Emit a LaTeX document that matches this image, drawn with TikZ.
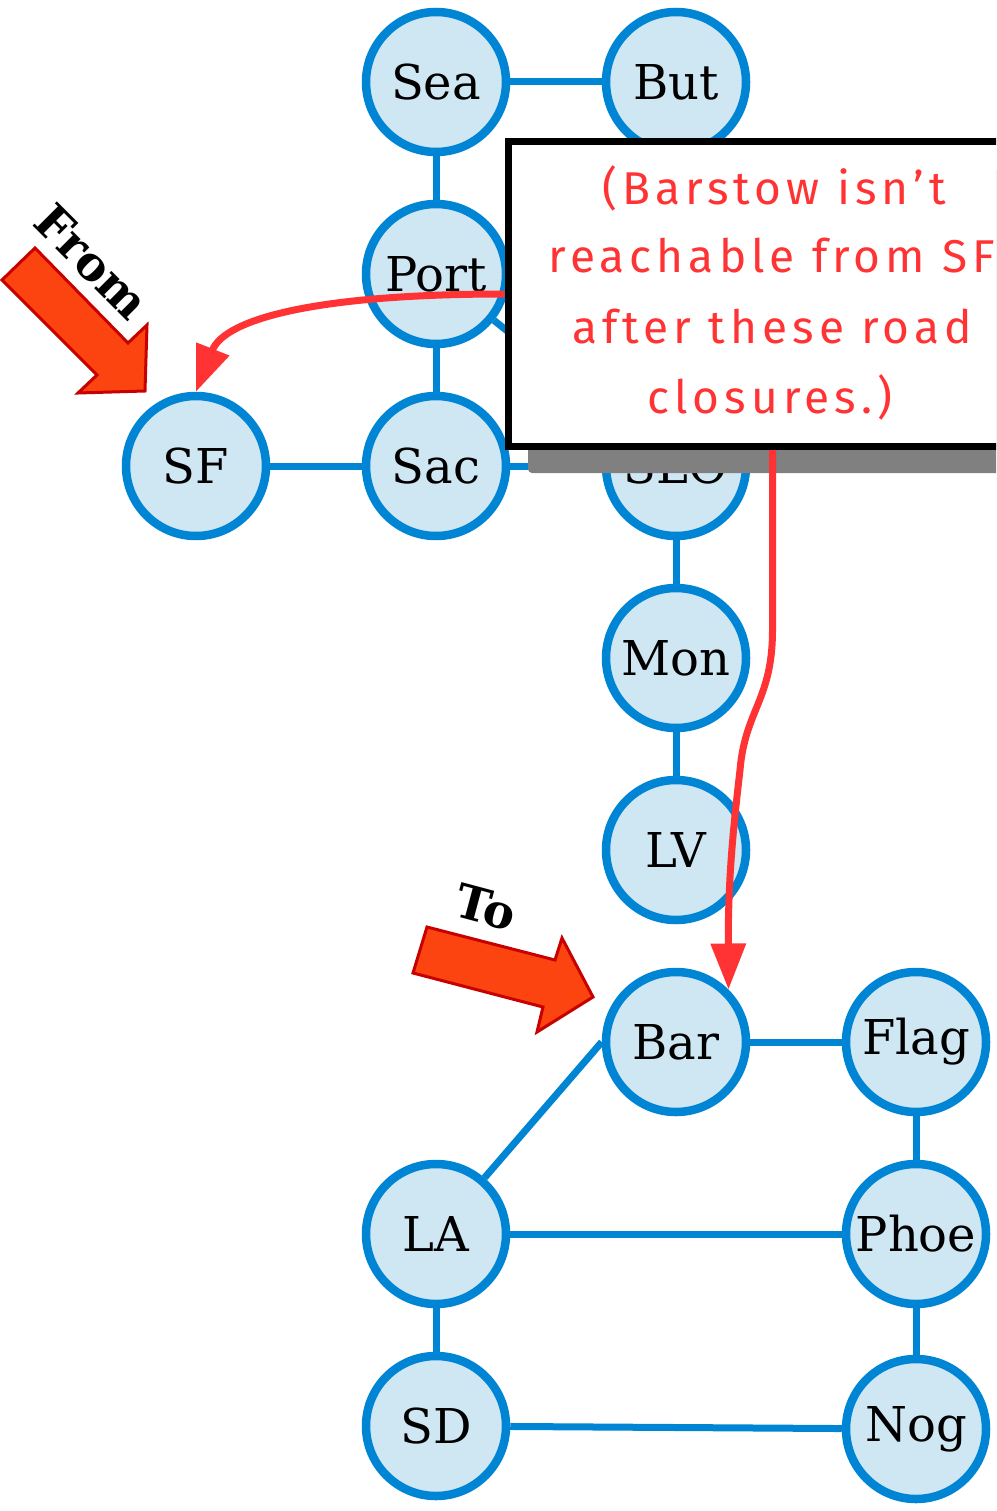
\documentclass[tikz,border=0pt]{standalone}
\usepackage{fontspec}
\setmainfont{DejaVu Serif}
\newfontfamily\hand{Fira Sans}[LetterSpace=11]
\usetikzlibrary{arrows.meta}
\definecolor{nodefill}{HTML}{CFE6F3}
\definecolor{nodeline}{HTML}{0084D4}
\definecolor{annot}{HTML}{FF3333}
\definecolor{fatfill}{HTML}{FC4410}
\definecolor{fatline}{HTML}{C80000}
\definecolor{shadowgray}{HTML}{808080}
\begin{document}
\begin{tikzpicture}[x=1pt,y=-1pt,
  city/.style={circle, draw=nodeline, fill=nodefill, line width=8.5pt, minimum size=140pt, inner sep=0pt, font=\fontsize{48}{56}\selectfont},
  road/.style={draw=nodeline, line width=7pt},
  redarrow/.style={draw=annot, line width=7pt, -{Triangle[length=46pt,width=34pt]}},
  fatarrow/.style={fill=fatfill, draw=fatline, line width=3pt, line join=miter},
  label/.style={font=\bfseries\fontsize{47}{54}\selectfont, inner sep=0pt},
  handtext/.style={text=annot, anchor=base, inner sep=0pt, font=\hand\fontsize{46}{70}\selectfont}]
\useasboundingbox (0,0) rectangle (996,1511);
\clip (0,0) rectangle (996,1511);
% cities
\node[city] (Sea) at (436,82) {Sea};
\node[city] (But) at (676,82) {But};
\node[city] (Port) at (436,274) {Port};
\node[city] (SF) at (196,466) {SF};
\node[city] (Sac) at (436,466) {Sac};
\node[city] (SLO) at (676,466) {SLO};
\node[city] (Mon) at (676,658) {Mon};
\node[city] (LV) at (676,850) {LV};
\node[city] (Bar) at (676,1042) {Bar};
\node[city] (Flag) at (916,1042) {Flag};
\node[city] (LA) at (436,1234) {LA};
\node[city] (Phoe) at (916,1234) {Phoe};
\node[city] (SD) at (436,1426) {SD};
\node[city] (Nog) at (916,1429) {Nog};
% roads
\begin{scope}[road]
\draw (Sea) -- (But);
\draw (Sea) -- (Port);
\draw (Port) -- (Sac);
\draw (Port) -- (SLO);
\draw (SF) -- (Sac);
\draw (Sac) -- (SLO);
\draw (SLO) -- (Mon);
\draw (Mon) -- (LV);
\draw (Bar) -- (Flag);
\draw (LA) -- (Bar.west);
\draw (Flag) -- (Phoe);
\draw (LA) -- (Phoe);
\draw (LA) -- (SD);
\draw (Phoe) -- (Nog);
\draw (SD) -- (Nog);
\end{scope}
% callout
\fill[shadowgray, rounded corners=4pt] (528,170) rectangle (1080,473);
\node[draw=black, fill=white, line width=7pt, minimum width=529pt, minimum height=305pt, inner sep=0pt] (note) at (772.5,294) {};
\node[handtext] (t1) at (774,205) {(Barstow isn’t};
\node[handtext] (t2) at (772,273) {reachable from SF};
\node[handtext] (t3) at (772,343) {after these road};
\node[handtext] (t4) at (770,413) {closures.)};
% red annotation arrows
\draw[redarrow] (note.west) .. controls (320,294) and (225,318) .. (SF.north);
\draw[redarrow] (note.south) -- (772.5,630) .. controls (772.5,700) and (745,710) .. (740,770) .. controls (733,830) and (728,880) .. (Bar.45);
% fat arrows
\draw[fatarrow] (35,248) -- (128,343) -- (147,325) -- (145,391) -- (78,393) -- (97,375) -- (2,280) -- cycle;
\draw[fatarrow] (427,927) -- (555,960) -- (562,938) -- (593,997) -- (537,1032) -- (543,1007) -- (413,973) -- cycle;
\node[label, rotate=-45] (from) at (92,262) {From};
\node[label, rotate=-15] (to) at (486,907) {To};
\end{tikzpicture}
\end{document}
